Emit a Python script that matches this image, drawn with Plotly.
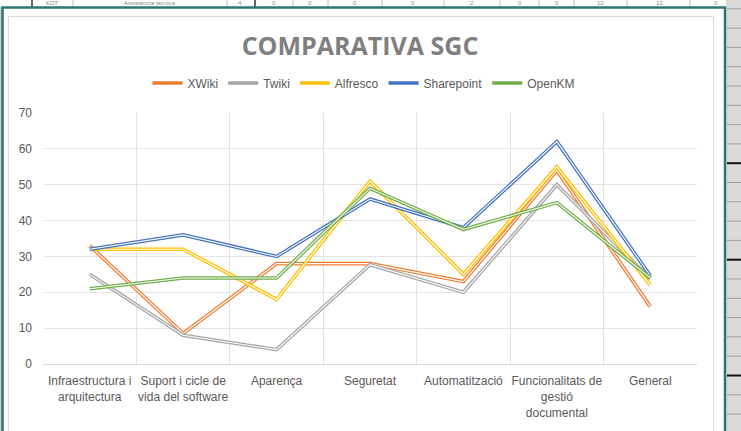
import plotly.graph_objects as go

# ---------------- data ----------------
categories = [
    "Infraestructura i<br>arquitectura",
    "Suport i cicle de<br>vida del software",
    "Aparença",
    "Seguretat",
    "Automatització",
    "Funcionalitats de<br>gestió<br>documental",
    "General",
]
series_names = ["XWiki", "Twiki", "Alfresco", "Sharepoint", "OpenKM"]
xwiki = [33, 8.5, 28, 28, 23, 54, 16]
twiki = [25, 8, 4, 27.7, 20, 50, 23.7]
alfresco = [32, 32, 18, 51, 25, 55, 22]
sharepoint = [32, 36, 30, 46, 38, 62, 24.6]
openkm = [21, 24, 24, 49, 37.5, 45, 24]
y_ticks = [0, 10, 20, 30, 40, 50, 60, 70]

top_row_texts = ["KDT", "Assistència tècnica", "4", "0", "0", "0", "0", "2", "0", "0", "12", "12", "0"]

# ---------------- style ----------------
colors = ["#ED7D31", "#A5A5A5", "#FFC000", "#4472C4", "#70AD47"]
W, H = 741, 431
L, R, T, B = 43, 697, 113, 364


def fx(px):
    return (px - L) / (R - L)


def fy(py):
    return (B - py) / (B - T)


fig = go.Figure()
for name, vals, col in zip(series_names, [xwiki, twiki, alfresco, sharepoint, openkm], colors):
    fig.add_trace(go.Scatter(x=categories, y=vals, mode="lines", name=name,
                             legendgroup=name, line=dict(color=col, width=3.6)))
    fig.add_trace(go.Scatter(x=categories, y=vals, mode="lines", showlegend=False,
                             legendgroup=name, hoverinfo="skip",
                             line=dict(color="white", width=1.1)))

shapes = []
# top spreadsheet strip
shapes.append(dict(type="rect", xref="paper", yref="paper", x0=fx(0), x1=fx(741), y0=fy(7), y1=fy(0),
                   fillcolor="#ffffff", line=dict(width=0), layer="below"))
for vx in [32, 73, 227, 255, 293, 328, 382, 444, 500, 539, 574, 627, 690]:
    shapes.append(dict(type="line", xref="paper", yref="paper", x0=fx(vx), x1=fx(vx), y0=fy(7), y1=fy(0),
                       line=dict(color="#222222" if vx in (32, 255) else "#c0c0c0",
                                 width=1.4 if vx in (32, 255) else 1)))
# right spreadsheet strip
shapes.append(dict(type="rect", xref="paper", yref="paper", x0=fx(726), x1=fx(741), y0=fy(431), y1=fy(0),
                   fillcolor="#dadada", line=dict(width=0)))
for k in range(-5, 18):
    yy = 105.3 + 19.3 * k
    if 0 < yy < 431:
        thick = k in (3, 8, 14)
        shapes.append(dict(type="line", xref="paper", yref="paper", x0=fx(727), x1=fx(741), y0=fy(yy), y1=fy(yy),
                           line=dict(color="#111111" if thick else "#a0a0a0", width=2 if thick else 1)))
# left strip
shapes.append(dict(type="rect", xref="paper", yref="paper", x0=fx(0), x1=fx(2), y0=fy(431), y1=fy(7),
                   fillcolor="#d0d0d0", line=dict(width=0)))
# chart area border (light gray)
shapes.append(dict(type="rect", xref="paper", yref="paper", x0=fx(8.5), x1=fx(713.5), y0=fy(445), y1=fy(16.5),
                   line=dict(color="#d9d9d9", width=1)))
# selection frame (teal)
shapes.append(dict(type="rect", xref="paper", yref="paper", x0=fx(2.5), x1=fx(725), y0=fy(445), y1=fy(7.5),
                   line=dict(color="#2e7575", width=2.5)))

annotations = []
top_x = [52, 150, 240, 274, 310, 355, 413, 472, 520, 557, 600, 659, 716]
for t, xx in zip(top_row_texts, top_x):
    annotations.append(dict(text=t, xref="paper", yref="paper", x=fx(xx), y=fy(3.2), yanchor="middle",
                            xanchor="center", showarrow=False,
                            font=dict(family="Liberation Sans", size=6, color="#888888")))

fig.update_layout(
    width=W, height=H, autosize=False,
    margin=dict(l=L, r=W - R, t=T, b=H - B, pad=0),
    paper_bgcolor="white", plot_bgcolor="white",
    title=dict(text="COMPARATIVA SGC", x=fx(360), xref="paper", xanchor="center",
               y=1 - 46 / H, yref="container", yanchor="middle",
               font=dict(family="Open Sans", size=25, color="#7f7f7f", weight="bold")),
    legend=dict(orientation="h", x=fx(364), xanchor="center", y=fy(83), yanchor="middle",
                font=dict(family="Liberation Sans", size=12, color="#595959"),
                bgcolor="rgba(0,0,0,0)", itemwidth=30),
    xaxis=dict(type="category", range=[-0.5, 6.5], tickson="boundaries", showgrid=True,
               gridcolor="#e3e3e3", automargin=False, tickangle=0,
               showline=True, linecolor="#d9d9d9", ticks="", ticklabelstandoff=6,
               tickfont=dict(family="Liberation Sans", size=12, color="#595959"), fixedrange=True),
    yaxis=dict(range=[0, 70], tickvals=y_ticks, showgrid=True, gridcolor="#e3e3e3", zeroline=False,
               showline=False, ticks="", ticklabelstandoff=10, automargin=False,
               tickfont=dict(family="Liberation Sans", size=12, color="#595959"), fixedrange=True),
    shapes=shapes, annotations=annotations, showlegend=True,
)

fig.write_html("out.html", config={"displayModeBar": False},
               post_script="document.body.style.margin='0';")
